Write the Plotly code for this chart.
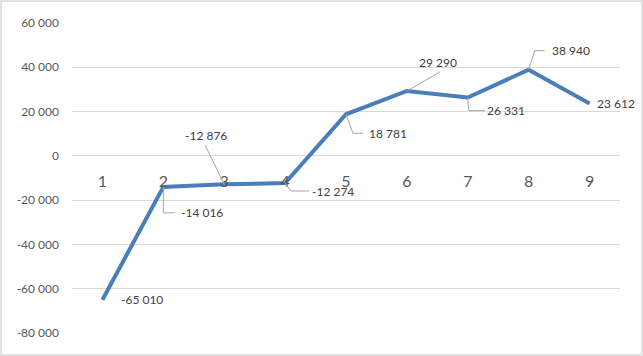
import plotly.graph_objects as go

categories = [1, 2, 3, 4, 5, 6, 7, 8, 9]
values = [-65010, -14016, -12876, -12274, 18781, 29290, 26331, 38940, 23612]
y_ticks = [-80000, -60000, -40000, -20000, 0, 20000, 40000, 60000]

def fmt(v):
    s = f"{abs(v):,}".replace(",", " ")
    return ("-" if v < 0 else "") + s

W, H = 643, 356
ML, MR, MT, MB = 72, 23, 23, 23
PW, PH = W - ML - MR, H - MT - MB

# label offsets in pixels (dx right, dy down) and leader paths (screen coords)
label_off = [(40, 0), (39, 26), (-18, -49), (48, 8), (42, 19), (31, -29), (38, 13), (42, -19), (26, 0)]
leaders = [None, [(0, 0), (0, 26), (12, 26)], [(0, 0), (-19, -39)], [(0, 0), (6, 8), (24, 8)],
           [(0, 0), (7, 19), (17, 19)], [(0, 0), (33, -19)], [(0, 0), (1, 13), (17, 13)],
           [(0, 0), (6, -19), (16, -19)], None]

fig = go.Figure()
fig.add_trace(go.Scatter(x=categories, y=values, mode="lines",
                         line=dict(color="#4A7EBB", width=4), hoverinfo="skip"))

annotations = []
shapes = []
for c, v, (dx, dy), ld in zip(categories, values, label_off, leaders):
    annotations.append(dict(x=c, y=v, xref="x", yref="y", text=fmt(v), showarrow=False,
                            xshift=dx, yshift=-dy, font=dict(family="Lato", size=12, color="#404040")))
    if ld:
        path = "M" + " L".join(f"{px},{-py}" for px, py in ld)
        shapes.append(dict(type="path", xref="x", yref="y", xsizemode="pixel", ysizemode="pixel",
                           xanchor=c, yanchor=v, path=path,
                           line=dict(color="#A6A6A6", width=1)))

shapes.append(dict(type="rect", xref="paper", yref="paper",
                   x0=(1 - ML) / PW, x1=(W - 1 - ML) / PW,
                   y0=-(MB - 1) / PH, y1=1 + (MT - 1) / PH,
                   line=dict(color="#D9D9D9", width=1.5)))

ymin, ymax = -80000, 60000
fig.update_layout(
    width=W, height=H, margin=dict(l=ML, r=MR, t=MT, b=MB),
    paper_bgcolor="white", plot_bgcolor="white", showlegend=False,
    annotations=annotations, shapes=shapes,
    xaxis=dict(range=[0.5, 9.5], tickvals=categories, ticktext=[str(c) for c in categories],
               showgrid=False, zeroline=False, showline=False, ticks="",
               anchor="free", position=(0 - ymin) / (ymax - ymin), ticklabelstandoff=14,
               tickfont=dict(family="Lato", size=16, color="#595959")),
    yaxis=dict(range=[ymin, ymax], tickvals=y_ticks, ticktext=[fmt(t) for t in y_ticks],
               showgrid=True, gridcolor="#D9D9D9", gridwidth=1, zeroline=False, showline=False,
               ticks="", ticklabelstandoff=12,
               tickfont=dict(family="Lato", size=12, color="#595959")),
)
fig.write_html("out.html", config={"displayModeBar": False},
               post_script="document.body.style.margin='0px';")
